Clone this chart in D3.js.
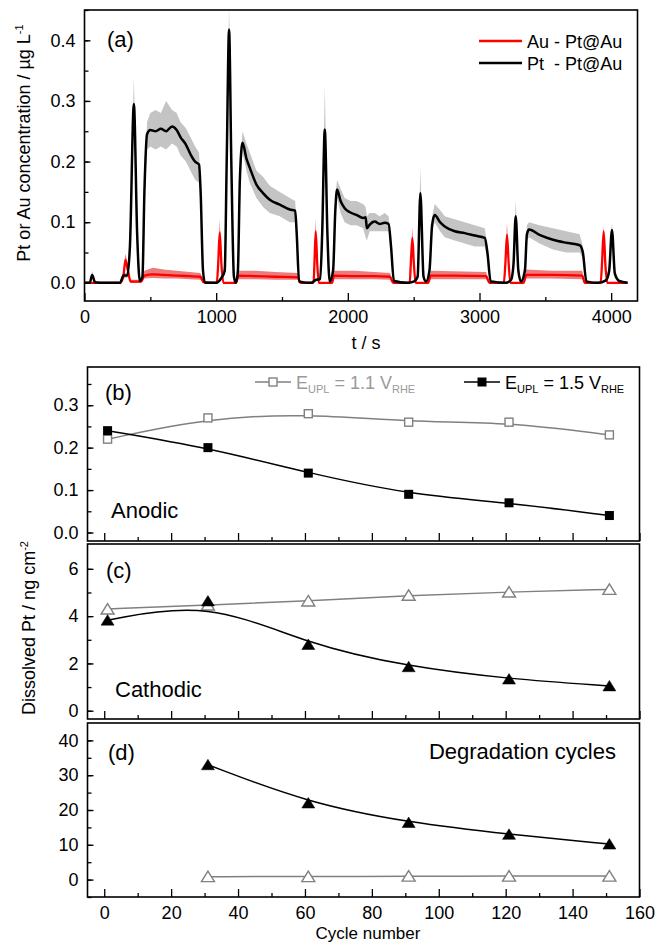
<!DOCTYPE html>
<html>
<head>
<meta charset="utf-8">
<script src="https://cdn.jsdelivr.net/npm/d3@7"></script>
<style>
  body { margin: 0; background: #fff; }
  svg { display: block; font-family: "Liberation Sans", Arial, sans-serif; }
  text { white-space: pre; }
</style>
</head>
<body>
<svg id="chart" width="658" height="946"></svg>
<script>
// ---------- Panel (a): time series, rows are [t, smoothed, rawLow, rawHigh] ----------
const ptSeries = [
  [0, 0, 0, 0], [40, 0, 0, 0], [58, 0.013, 0.008, 0.02], [80, 0.001, 0, 0.003],
  [150, 0, 0, 0], [270, 0, 0, 0], [296, 0.012, 0.008, 0.016], [325, 0.012, 0.008, 0.016],
  [345, 0.06, 0.05, 0.08], [375, 0.295, 0.27, 0.34], [400, 0.08, 0.06, 0.1],
  [420, 0.003, 0, 0.006], [440, 0.01, 0.005, 0.015], [455, 0.15, 0.13, 0.17],
  [475, 0.245, 0.22, 0.265], [500, 0.252, 0.225, 0.28], [540, 0.25, 0.22, 0.285],
  [580, 0.254, 0.225, 0.28], [620, 0.25, 0.22, 0.3], [665, 0.258, 0.23, 0.285],
  [700, 0.252, 0.225, 0.28], [730, 0.24, 0.21, 0.265], [770, 0.228, 0.2, 0.255],
  [805, 0.212, 0.185, 0.24], [840, 0.2, 0.17, 0.225], [870, 0.195, 0.165, 0.215],
  [882, 0.15, 0.14, 0.17], [900, 0.02, 0.015, 0.03], [915, 0, 0, 0], [1000, 0, 0, 0],
  [1040, 0.008, 0.004, 0.012], [1065, 0.02, 0.015, 0.03], [1080, 0.2, 0.19, 0.22],
  [1098, 0.418, 0.4, 0.46], [1115, 0.2, 0.18, 0.22], [1135, 0.01, 0.005, 0.015],
  [1150, 0, 0, 0], [1165, 0.02, 0.015, 0.03], [1180, 0.17, 0.16, 0.19],
  [1200, 0.231, 0.215, 0.25], [1230, 0.205, 0.185, 0.23], [1255, 0.19, 0.165, 0.215],
  [1306, 0.162, 0.14, 0.185], [1356, 0.148, 0.125, 0.175], [1407, 0.137, 0.115, 0.16],
  [1483, 0.129, 0.11, 0.15], [1559, 0.121, 0.1, 0.14], [1600, 0.119, 0.1, 0.135],
  [1612, 0.08, 0.07, 0.09], [1630, 0.002, 0, 0.005], [1720, 0, 0, 0],
  [1760, 0.005, 0.003, 0.008], [1790, 0.006, 0.003, 0.01], [1805, 0.08, 0.07, 0.1],
  [1825, 0.253, 0.24, 0.324], [1845, 0.08, 0.07, 0.1], [1862, 0.002, 0, 0.005],
  [1888, 0.02, 0.015, 0.03], [1905, 0.12, 0.11, 0.14], [1918, 0.154, 0.14, 0.17],
  [1945, 0.135, 0.115, 0.155], [1976, 0.123, 0.1, 0.14], [2020, 0.116, 0.095, 0.135],
  [2065, 0.112, 0.095, 0.135], [2116, 0.107, 0.09, 0.13], [2135, 0.108, 0.075, 0.125],
  [2145, 0.09, 0.07, 0.11], [2166, 0.096, 0.085, 0.115], [2204, 0.101, 0.085, 0.115],
  [2242, 0.097, 0.085, 0.11], [2280, 0.099, 0.085, 0.115], [2310, 0.097, 0.085, 0.11],
  [2328, 0.06, 0.05, 0.07], [2350, 0.003, 0, 0.006], [2450, 0, 0, 0],
  [2500, 0.002, 0, 0.004], [2530, 0.01, 0.005, 0.015], [2551, 0.148, 0.13, 0.19],
  [2575, 0.01, 0.005, 0.015], [2595, 0.002, 0, 0.004], [2620, 0.02, 0.015, 0.03],
  [2640, 0.095, 0.085, 0.11], [2660, 0.112, 0.1, 0.13], [2700, 0.1, 0.085, 0.12],
  [2736, 0.093, 0.075, 0.11], [2812, 0.085, 0.07, 0.105], [2888, 0.082, 0.065, 0.1],
  [2964, 0.078, 0.06, 0.095], [3040, 0.074, 0.06, 0.09], [3060, 0.05, 0.04, 0.06],
  [3085, 0.002, 0, 0.005], [3200, 0, 0, 0], [3240, 0.005, 0.003, 0.008],
  [3258, 0.03, 0.02, 0.04], [3275, 0.11, 0.1, 0.137], [3295, 0.02, 0.01, 0.03],
  [3315, 0.002, 0, 0.004], [3345, 0.02, 0.015, 0.03], [3360, 0.08, 0.07, 0.095],
  [3376, 0.088, 0.075, 0.1], [3456, 0.079, 0.065, 0.095], [3558, 0.071, 0.055, 0.09],
  [3659, 0.066, 0.05, 0.085], [3761, 0.062, 0.05, 0.08], [3785, 0.05, 0.04, 0.06],
  [3812, 0.002, 0, 0.005], [3900, 0, 0, 0], [3960, 0.004, 0.002, 0.006],
  [3985, 0.02, 0.015, 0.03], [4006, 0.087, 0.08, 0.1], [4028, 0.015, 0.01, 0.02],
  [4060, 0.003, 0, 0.006], [4125, 0, 0, 0]
];

const auSeries = [
  [0, 0, 0, 0], [270, 0, 0, 0], [295, 0.01, 0.005, 0.02], [311, 0.038, 0.03, 0.048],
  [330, 0.02, 0.015, 0.03], [350, 0.002, 0, 0.005], [430, 0.002, 0, 0.005],
  [455, 0.012, 0.007, 0.02], [520, 0.014, 0.008, 0.025], [600, 0.013, 0.007, 0.022],
  [700, 0.012, 0.007, 0.02], [800, 0.011, 0.006, 0.018], [880, 0.01, 0.005, 0.016],
  [905, 0.001, 0, 0.003], [1005, 0, 0, 0], [1015, 0.03, 0.025, 0.04],
  [1027, 0.083, 0.075, 0.105], [1040, 0.03, 0.025, 0.04], [1055, 0, 0, 0],
  [1150, 0, 0, 0], [1170, 0.012, 0.006, 0.02], [1300, 0.011, 0.006, 0.02],
  [1450, 0.01, 0.005, 0.018], [1620, 0.009, 0.005, 0.016], [1640, 0, 0, 0],
  [1740, 0, 0, 0], [1746, 0.03, 0.025, 0.04], [1756, 0.085, 0.075, 0.106],
  [1768, 0.03, 0.025, 0.04], [1780, 0, 0, 0], [1880, 0, 0, 0],
  [1895, 0.012, 0.006, 0.02], [2050, 0.011, 0.006, 0.02], [2200, 0.011, 0.006, 0.018],
  [2320, 0.01, 0.005, 0.016], [2345, 0, 0, 0], [2470, 0, 0, 0],
  [2478, 0.03, 0.025, 0.04], [2490, 0.074, 0.068, 0.092], [2502, 0.03, 0.025, 0.04],
  [2515, 0, 0, 0], [2610, 0, 0, 0], [2630, 0.012, 0.006, 0.02],
  [2800, 0.012, 0.006, 0.019], [3050, 0.011, 0.006, 0.018], [3075, 0, 0, 0],
  [3185, 0, 0, 0], [3196, 0.03, 0.025, 0.04], [3209, 0.079, 0.07, 0.1],
  [3222, 0.03, 0.025, 0.04], [3235, 0, 0, 0], [3335, 0, 0, 0],
  [3355, 0.013, 0.007, 0.022], [3550, 0.013, 0.007, 0.02], [3780, 0.012, 0.006, 0.02],
  [3800, 0, 0, 0], [3920, 0, 0, 0], [3930, 0.03, 0.025, 0.04],
  [3943, 0.085, 0.075, 0.095], [3956, 0.03, 0.025, 0.04], [3970, 0, 0, 0],
  [4125, 0, 0, 0]
];

const timeTicks = [0, 1000, 2000, 3000, 4000];
const concTicks = [0, 0.1, 0.2, 0.3, 0.4];

// ---------- Panels (b)-(d): dissolved Pt per cycle ----------
const cycles = [1, 31, 61, 91, 121, 151];
const anodic11 = [0.22, 0.27, 0.28, 0.26, 0.26, 0.23];
const anodic15 = [0.24, 0.20, 0.14, 0.09, 0.07, 0.04];
const cathodic11 = [4.3, 4.47, 4.64, 4.88, 5.02, 5.13];
const cathodic15 = [3.83, 4.64, 2.8, 1.86, 1.34, 1.05];
const degCycles = [31, 61, 91, 121, 151];
const deg11 = [0.85, 0.85, 1.0, 1.0, 1.0];
const deg15 = [33, 22, 16.4, 13, 10.2];

const cycleTicks = [0, 20, 40, 60, 80, 100, 120, 140, 160];
const anodicTicks = [0, 0.1, 0.2, 0.3];
const cathodicTicks = [0, 2, 4, 6];
const degTicks = [0, 10, 20, 30, 40];

const GRAY = '#808080';
const svg = d3.select('#chart');

// helper: inward ticks, major + minor
function leftAxis(g, y, x0, majors, minors, fmt) {
  g.append('g')
    .attr('transform', `translate(${x0},0)`)
    .call(d3.axisLeft(y).tickValues(minors).tickSize(-4).tickFormat(''))
    .call(a => a.select('.domain').remove());
  g.append('g')
    .attr('transform', `translate(${x0},0)`)
    .call(d3.axisLeft(y).tickValues(majors).tickSize(-6).tickPadding(9).tickFormat(fmt))
    .call(a => a.select('.domain').remove())
    .selectAll('text').style('font-size', '18px').attr('fill', '#000');
  g.selectAll('.tick line').attr('stroke', '#000').attr('stroke-width', 1.3);
}

function bottomAxis(g, x, y0, majors, minors, fmt, showLabels) {
  g.append('g')
    .attr('transform', `translate(0,${y0})`)
    .call(d3.axisBottom(x).tickValues(minors).tickSize(-4).tickFormat(''))
    .call(a => a.select('.domain').remove());
  const ax = g.append('g')
    .attr('transform', `translate(0,${y0})`)
    .call(d3.axisBottom(x).tickValues(majors).tickSize(-8).tickPadding(9)
      .tickFormat(showLabels ? fmt : ''))
    .call(a => a.select('.domain').remove());
  ax.selectAll('text').style('font-size', '18px').attr('fill', '#000');
  g.selectAll('.tick line').attr('stroke', '#000').attr('stroke-width', 1.3);
}

function frame(x, y) {
  svg.append('rect')
    .attr('x', x.range()[0]).attr('y', y.range()[1])
    .attr('width', x.range()[1] - x.range()[0])
    .attr('height', y.range()[0] - y.range()[1])
    .attr('fill', 'none').attr('stroke', '#000').attr('stroke-width', 1.6);
}

// ================= Panel (a) =================
const xA = d3.scaleLinear().domain([0, 4200]).range([84.5, 637.5]);
const yA = d3.scaleLinear().domain([-0.03, 0.45]).range([301, 10]);

svg.append('clipPath').attr('id', 'clipA')
  .append('rect').attr('x', xA.range()[0]).attr('y', yA.range()[1])
  .attr('width', xA.range()[1] - xA.range()[0]).attr('height', yA.range()[0] - yA.range()[1]);

const gA = svg.append('g');
const plotA = gA.append('g').attr('clip-path', 'url(#clipA)');

const band = d3.area()
  .x(d => xA(d[0])).y0(d => yA(d[2])).y1(d => yA(d[3]));
const smooth = d3.line()
  .x(d => xA(d[0])).y(d => yA(d[1])).curve(d3.curveMonotoneX);

plotA.append('path').datum(auSeries).attr('d', band).attr('fill', '#ec7c7c');
plotA.append('path').datum(ptSeries).attr('d', band).attr('fill', '#c4c4c4');
plotA.append('path').datum(auSeries).attr('d', smooth)
  .attr('fill', 'none').attr('stroke', '#ff0000').attr('stroke-width', 2.3);
plotA.append('path').datum(ptSeries).attr('d', smooth)
  .attr('fill', 'none').attr('stroke', '#000').attr('stroke-width', 2.5);

leftAxis(gA, yA, xA.range()[0], concTicks, d3.range(0, 0.451, 0.05), d3.format('.1f'));
bottomAxis(gA, xA, yA.range()[0], timeTicks, d3.range(500, 4200, 1000), d => d, true);
frame(xA, yA);

svg.append('text').attr('x', 107).attr('y', 47).style('font-size', '22px').text('(a)');

// legend (a)
const legA = [
  { label: 'Au - Pt@Au', color: '#ff0000', y: 41 },
  { label: 'Pt  - Pt@Au', color: '#000', y: 63 }
];
legA.forEach(l => {
  svg.append('line').attr('x1', 479).attr('x2', 522).attr('y1', l.y).attr('y2', l.y)
    .attr('stroke', l.color).attr('stroke-width', 2.5);
  svg.append('text').attr('x', 527).attr('y', l.y + 6.5).style('font-size', '18px').text(l.label);
});

// axis titles (a)
const yTitleA = svg.append('text')
  .attr('transform', 'translate(30,143) rotate(-90)')
  .attr('text-anchor', 'middle').style('font-size', '18px');
yTitleA.append('tspan').text('Pt or Au concentration / µg L');
yTitleA.append('tspan').attr('dy', -7).style('font-size', '11px').text('-1');

svg.append('text').attr('x', 366).attr('y', 349).attr('text-anchor', 'middle')
  .style('font-size', '18px').text('t / s');

// ================= Panels (b)-(d) =================
const xC = d3.scaleLinear().domain([-5, 160]).range([87.5, 639.5]);
const yB = d3.scaleLinear().domain([-0.02, 0.39]).range([541, 367]);
const yCa = d3.scaleLinear().domain([-0.35, 7.05]).range([719, 544]);
const yD = d3.scaleLinear().domain([-5, 45]).range([897, 723]);

function squareMarker(g, pts, y, filled) {
  g.selectAll(null).data(pts).enter().append('rect')
    .attr('x', d => xC(d[0]) - (filled ? 4.5 : 4))
    .attr('y', d => y(d[1]) - (filled ? 4.5 : 4))
    .attr('width', filled ? 9 : 8).attr('height', filled ? 9 : 8)
    .attr('fill', filled ? '#000' : '#fff')
    .attr('stroke', filled ? '#000' : GRAY).attr('stroke-width', filled ? 0 : 1.4);
}

function triMarker(g, pts, y, filled) {
  g.selectAll(null).data(pts).enter().append('path')
    .attr('d', d => {
      const cx = xC(d[0]), cy = y(d[1]);
      return `M${cx},${cy - 5.5}L${cx + 6.5},${cy + 5}L${cx - 6.5},${cy + 5}Z`;
    })
    .attr('fill', filled ? '#000' : '#fff')
    .attr('stroke', filled ? '#000' : GRAY).attr('stroke-width', filled ? 0.5 : 1.4);
}

function series(g, xs, ys, y, color) {
  const pts = xs.map((c, i) => [c, ys[i]]);
  g.append('path').datum(pts)
    .attr('d', d3.line().x(d => xC(d[0])).y(d => y(d[1])).curve(d3.curveBasis))
    .attr('fill', 'none').attr('stroke', color).attr('stroke-width', 1.5);
  return pts;
}

// (b) anodic
const gB = svg.append('g');
leftAxis(gB, yB, xC.range()[0], anodicTicks, d3.range(0, 0.36, 0.05), d3.format('.1f'));
bottomAxis(gB, xC, yB.range()[0], cycleTicks, d3.range(10, 160, 20), d => d, false);
squareMarker(gB, series(gB, cycles, anodic11, yB, GRAY), yB, false);
squareMarker(gB, series(gB, cycles, anodic15, yB, '#000'), yB, true);
frame(xC, yB);
svg.append('text').attr('x', 105).attr('y', 400).style('font-size', '22px').text('(b)');
svg.append('text').attr('x', 111).attr('y', 518).style('font-size', '22px').text('Anodic');

// legend (b)
const legB = [
  { x: 255, color: GRAY, text: '#9a9a9a', filled: false, v: '1.1' },
  { x: 464, color: '#000', text: '#000', filled: true, v: '1.5' }
];
legB.forEach(l => {
  const ly = 382;
  svg.append('line').attr('x1', l.x).attr('x2', l.x + 36).attr('y1', ly).attr('y2', ly)
    .attr('stroke', l.color).attr('stroke-width', 1.5);
  const s = l.filled ? 9 : 8;
  svg.append('rect').attr('x', l.x + 18 - s / 2).attr('y', ly - s / 2)
    .attr('width', s).attr('height', s)
    .attr('fill', l.filled ? '#000' : '#fff')
    .attr('stroke', l.color).attr('stroke-width', l.filled ? 0 : 1.4);
  const t = svg.append('text').attr('x', l.x + 41).attr('y', ly + 6.5)
    .style('font-size', '18px').attr('fill', l.text);
  t.append('tspan').text('E');
  t.append('tspan').attr('dy', 4).style('font-size', '11px').text('UPL');
  t.append('tspan').attr('dy', -4).text(` = ${l.v} V`);
  t.append('tspan').attr('dy', 4).style('font-size', '11px').text('RHE');
});

// (c) cathodic
const gC = svg.append('g');
leftAxis(gC, yCa, xC.range()[0], cathodicTicks, d3.range(0, 7, 1), d => d);
bottomAxis(gC, xC, yCa.range()[0], cycleTicks, d3.range(10, 160, 20), d => d, false);
triMarker(gC, series(gC, cycles, cathodic11, yCa, GRAY), yCa, false);
triMarker(gC, series(gC, cycles, cathodic15, yCa, '#000'), yCa, true);
frame(xC, yCa);
svg.append('text').attr('x', 106).attr('y', 578).style('font-size', '22px').text('(c)');
svg.append('text').attr('x', 115).attr('y', 697).style('font-size', '22px').text('Cathodic');

// (d) degradation
const gD = svg.append('g');
leftAxis(gD, yD, xC.range()[0], degTicks, d3.range(-5, 45, 5), d => d);
bottomAxis(gD, xC, yD.range()[0], cycleTicks, d3.range(10, 160, 20), d => d, true);
triMarker(gD, series(gD, degCycles, deg11, yD, GRAY), yD, false);
triMarker(gD, series(gD, degCycles, deg15, yD, '#000'), yD, true);
frame(xC, yD);
svg.append('text').attr('x', 108).attr('y', 760).style('font-size', '22px').text('(d)');
svg.append('text').attr('x', 616).attr('y', 759).attr('text-anchor', 'end')
  .style('font-size', '22px').text('Degradation cycles');

// axis titles (b)-(d)
const yTitleB = svg.append('text')
  .attr('transform', 'translate(35,628) rotate(-90)')
  .attr('text-anchor', 'middle').style('font-size', '18px');
yTitleB.append('tspan').text('Dissolved Pt / ng cm');
yTitleB.append('tspan').attr('dy', -7).style('font-size', '11px').text('-2');

svg.append('text').attr('x', 368).attr('y', 939).attr('text-anchor', 'middle')
  .style('font-size', '17px').text('Cycle number');
</script>
</body>
</html>
